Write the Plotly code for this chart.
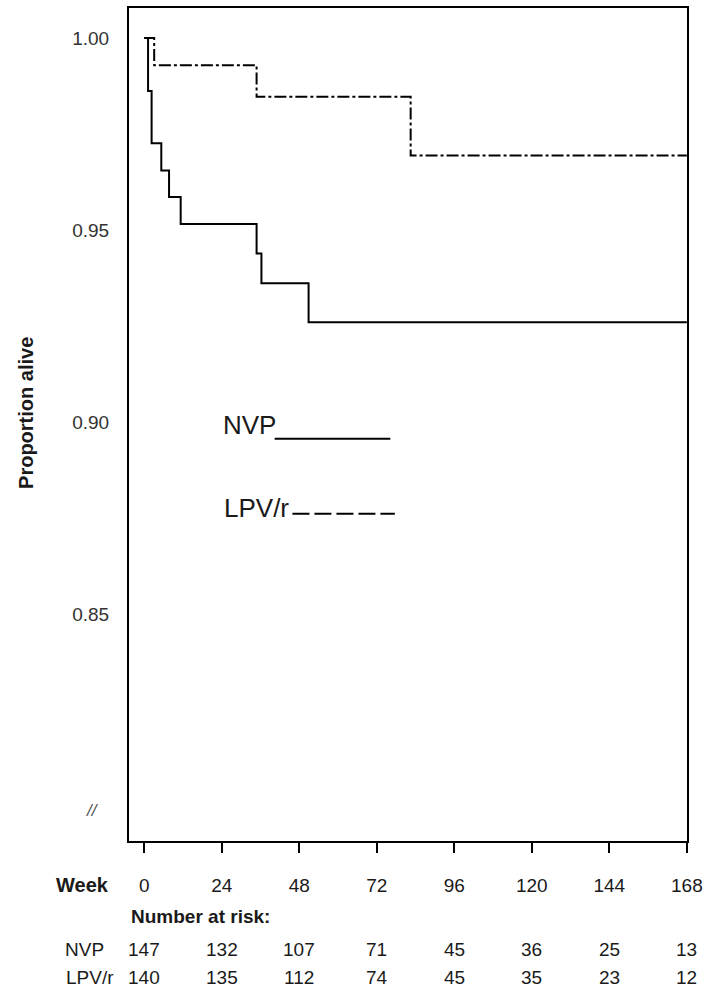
import plotly.graph_objects as go

# Kaplan-Meier step data (weeks, proportion alive)
nvp_time = [0, 1.2, 2.3, 5.3, 7.7, 11.3, 34.8, 36.3, 50.9, 168]
nvp_surv = [1.0, 0.9862, 0.9726, 0.9655, 0.9586, 0.9516, 0.9439, 0.9362, 0.9260, 0.9260]

lpv_time = [0, 3.1, 34.8, 82.5, 168]
lpv_surv = [1.0, 0.9929, 0.9847, 0.9694, 0.9694]

# Axis ticks
week_ticks = [0, 24, 48, 72, 96, 120, 144, 168]
y_ticks = [0.85, 0.90, 0.95, 1.00]
y_ticktext = ["0.85", "0.90", "0.95", "1.00"]

# Number at risk
nvp_risk = [147, 132, 107, 71, 45, 36, 25, 13]
lpv_risk = [140, 135, 112, 74, 45, 35, 23, 12]

FONT = "Liberation Sans, Arial, sans-serif"
INK = "#1a1a1a"

fig = go.Figure()
fig.add_trace(go.Scatter(x=nvp_time, y=nvp_surv, mode="lines", line_shape="hv",
                         line=dict(color="black", width=2), name="NVP",
                         showlegend=False))
fig.add_trace(go.Scatter(x=lpv_time, y=lpv_surv, mode="lines", line_shape="hv",
                         line=dict(color="black", width=2, dash="12px,3px,3px,3px"),
                         name="LPV/r", showlegend=False))

# Legend drawn as in the original (text with sample lines)
fig.add_annotation(x=23.85, y=0.8993, xref="x", yref="y", text="NVP", showarrow=False,
                   xanchor="left", yanchor="middle", font=dict(family=FONT, size=26, color=INK))
fig.add_shape(type="line", x0=40.4, x1=76.2, y0=0.8957, y1=0.8957, xref="x", yref="y",
              line=dict(color="black", width=2))
fig.add_annotation(x=24.2, y=0.8778, xref="x", yref="y", text="LPV/r", showarrow=False,
                   xanchor="left", yanchor="middle", font=dict(family=FONT, size=26, color=INK))
fig.add_shape(type="line", x0=45.9, x1=77.6, y0=0.8762, y1=0.8762, xref="x", yref="y",
              line=dict(color="black", width=2, dash="17px,5px"))

# Axis break mark
fig.add_annotation(x=-0.065, y=0.7991, xref="paper", yref="y", text="<i>//</i>",
                   showarrow=False, xanchor="center", yanchor="middle",
                   font=dict(family=FONT, size=17, color="#555"))

# Y axis title
fig.add_annotation(x=-0.1847, y=0.5138, xref="paper", yref="paper", text="<b>Proportion alive</b>",
                   textangle=-90, showarrow=False, xanchor="center", yanchor="middle",
                   font=dict(family=FONT, size=20, color=INK))

# Table below axis
fig.add_annotation(x=-0.135, y=-0.0527, xref="paper", yref="paper", text="<b>Week</b>",
                   showarrow=False, xanchor="left", yanchor="middle",
                   font=dict(family=FONT, size=20, color=INK))
fig.add_annotation(x=0.0, y=-0.0910, xref="paper", yref="paper", text="<b>Number at risk:</b>",
                   showarrow=False, xanchor="left", yanchor="middle",
                   font=dict(family=FONT, size=19, color=INK))
fig.add_annotation(x=-0.119, y=-0.1305, xref="paper", yref="paper", text="NVP",
                   showarrow=False, xanchor="left", yanchor="middle",
                   font=dict(family=FONT, size=19, color=INK))
fig.add_annotation(x=-0.117, y=-0.1641, xref="paper", yref="paper", text="LPV/r",
                   showarrow=False, xanchor="left", yanchor="middle",
                   font=dict(family=FONT, size=19, color=INK))
for w, a, b in zip(week_ticks, nvp_risk, lpv_risk):
    fig.add_annotation(x=w, y=-0.1305, xref="x", yref="paper", text=str(a), showarrow=False,
                       xanchor="center", yanchor="middle", font=dict(family=FONT, size=19, color=INK))
    fig.add_annotation(x=w, y=-0.1641, xref="x", yref="paper", text=str(b), showarrow=False,
                       xanchor="center", yanchor="middle", font=dict(family=FONT, size=19, color=INK))

fig.update_layout(
    width=709, height=993,
    margin=dict(l=129, r=17, t=6, b=152),
    paper_bgcolor="white", plot_bgcolor="white",
    font=dict(family=FONT, color=INK),
    xaxis=dict(range=[-4.7, 168.05], tickvals=week_ticks, ticktext=[str(w) for w in week_ticks],
               showgrid=False, zeroline=False, showline=True, linecolor="black", linewidth=2,
               mirror=True, ticks="outside", ticklen=10, tickwidth=2, tickcolor="black",
               ticklabelstandoff=16, tickfont=dict(family=FONT, size=19, color=INK)),
    yaxis=dict(range=[0.79107, 1.00779], tickvals=y_ticks, ticktext=y_ticktext,
               showgrid=False, zeroline=False, showline=True, linecolor="black", linewidth=2,
               mirror=True, ticks="", ticklabelstandoff=14,
               tickfont=dict(family=FONT, size=19, color="#333")),
)

fig.write_html("out.html", config={"displayModeBar": False},
               post_script="document.body.style.margin='0px';")
